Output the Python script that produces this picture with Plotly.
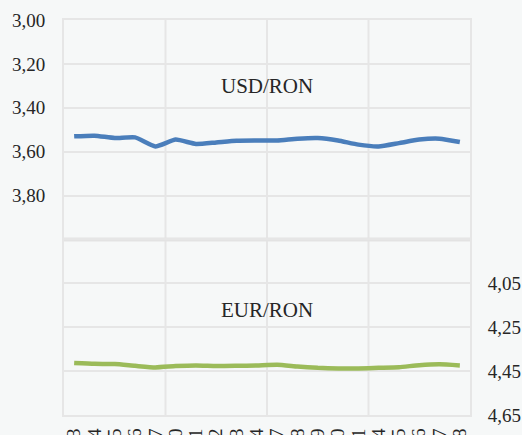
import plotly.graph_objects as go

days = ["3", "4", "5", "6", "7", "10", "11", "12", "13", "14",
        "17", "18", "19", "20", "21", "24", "25", "26", "27", "28"]
usd_ron = [3.530, 3.527, 3.538, 3.535, 3.576, 3.545, 3.565, 3.558, 3.550, 3.549,
           3.549, 3.541, 3.538, 3.549, 3.568, 3.576, 3.561, 3.545, 3.541, 3.556]
eur_ron = [4.413, 4.417, 4.418, 4.426, 4.433, 4.427, 4.424, 4.427, 4.426, 4.424,
           4.421, 4.429, 4.435, 4.438, 4.438, 4.435, 4.432, 4.423, 4.419, 4.424]
left_ticks = [3.0, 3.2, 3.4, 3.6, 3.8, 4.0, 4.2, 4.4, 4.6, 4.8]
left_text = ["3,00", "3,20", "3,40", "3,60", "3,80", "", "", "", "", ""]
right_ticks = [4.05, 4.25, 4.45, 4.65]
right_text = ["4,05", "4,25", "4,45", "4,65"]

FONT = "Liberation Serif, Times New Roman, DejaVu Serif, serif"
GRID = "#e6e6e6"
BG = "#f6f8f8"
TXT = "#262626"
tickfont = dict(family=FONT, size=19, color=TXT)

fig = go.Figure()
fig.add_trace(go.Scatter(x=days, y=usd_ron, mode="lines", yaxis="y",
                         line=dict(color="#4a7ebb", width=4.5, shape="spline", smoothing=0.5),
                         showlegend=False))
fig.add_trace(go.Scatter(x=days, y=eur_ron, mode="lines", yaxis="y2",
                         line=dict(color="#9bbb59", width=4.5, shape="spline", smoothing=0.5),
                         showlegend=False))

# vertical gridlines every 5 categories
for b in [4.5, 9.5, 14.5]:
    fig.add_shape(type="line", xref="x", yref="paper", x0=b, x1=b, y0=0, y1=1,
                  line=dict(color=GRID, width=2), layer="below")
# separator between the panels
fig.add_shape(type="line", xref="paper", yref="y", x0=0, x1=1, y0=4.0, y1=4.0,
              line=dict(color="#e3e3e3", width=4), layer="below")

fig.add_annotation(text="USD/RON", xref="paper", yref="y", x=0.5, y=3.30,
                   showarrow=False, font=dict(family=FONT, size=21, color=TXT))
fig.add_annotation(text="EUR/RON", xref="paper", yref="y2", x=0.5, y=4.17,
                   showarrow=False, font=dict(family=FONT, size=21, color=TXT))

fig.update_layout(
    width=522, height=435,
    margin=dict(l=64, r=52, t=20, b=20, autoexpand=False),
    paper_bgcolor=BG, plot_bgcolor=BG,
    font=dict(family=FONT, size=19, color=TXT),
    xaxis=dict(type="category", range=[-0.5, 19.5], showgrid=False,
               tickmode="array", tickvals=days, ticktext=days,
               tickangle=-90, tickfont=tickfont, automargin=False,
               showline=True, linecolor=GRID, linewidth=2, mirror=True,
               ticks="outside", ticklen=4, tickcolor="rgba(0,0,0,0)"),
    yaxis=dict(range=[4.8, 3.0], tickmode="array", tickvals=left_ticks, ticktext=left_text,
               tickfont=tickfont,
               showgrid=True, gridcolor=GRID, gridwidth=2, zeroline=False,
               showline=True, linecolor=GRID, linewidth=2, mirror=True,
               ticks="outside", ticklen=13, tickcolor="rgba(0,0,0,0)", automargin=False),
    yaxis2=dict(range=[4.65, 2.85], overlaying="y", side="right", tickmode="array",
                tickvals=right_ticks, ticktext=right_text, tickfont=tickfont,
                showgrid=False, zeroline=False,
                ticks="outside", ticklen=13, tickcolor="rgba(0,0,0,0)", automargin=False),
)

fig.write_html("out.html", config={"displayModeBar": False},
               post_script="document.body.style.margin='0';document.body.style.overflow='hidden';"
                           "document.body.style.background='" + BG + "';")
